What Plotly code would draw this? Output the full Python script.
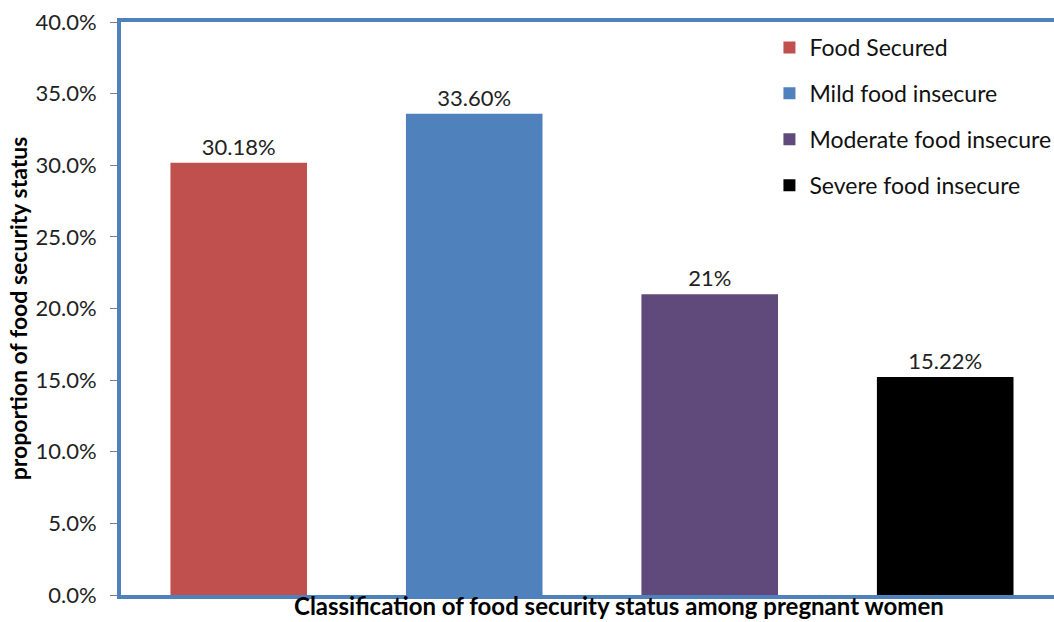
import plotly.graph_objects as go

categories = ["Food Secured", "Mild food insecure", "Moderate food insecure", "Severe food insecure"]
values = [30.18, 33.60, 21.0, 15.22]
labels = ["30.18%", "33.60%", "21%", "15.22%"]
colors = ["#C0504D", "#4F81BD", "#604A7B", "#000000"]
yticks = [0, 5, 10, 15, 20, 25, 30, 35, 40]
yticklabels = ["0.0%", "5.0%", "10.0%", "15.0%", "20.0%", "25.0%", "30.0%", "35.0%", "40.0%"]

FONT = "Lato, Open Sans, sans-serif"

fig = go.Figure()
for i, (c, v, t, col) in enumerate(zip(categories, values, labels, colors)):
    fig.add_trace(go.Bar(
        x=[i], y=[v], name=c, marker_color=col, marker_line_width=0,
        width=0.58, text=[t], textposition="outside", cliponaxis=False,
        textfont=dict(size=22, color="#222222", family=FONT),
        legendgroup=c,
    ))

fig.update_layout(
    width=1054, height=622,
    margin=dict(l=121, r=0, t=22, b=27, autoexpand=False),
    paper_bgcolor="white", plot_bgcolor="white",
    barmode="overlay",
    showlegend=True,
    legend=dict(x=0.695, y=0.993, xanchor="left", yanchor="top",
                font=dict(size=23, family=FONT, color="#111111"),
                tracegroupgap=13, itemwidth=30, bgcolor="rgba(0,0,0,0)"),
    font=dict(family=FONT),
)
fig.update_xaxes(range=[-0.5, 3.462], showticklabels=False, showgrid=False,
                 zeroline=False, showline=True, linecolor="#4F81BD", linewidth=4,
                 mirror=True, ticks="")
fig.update_yaxes(range=[0, 40], tickvals=yticks, ticktext=yticklabels,
                 showgrid=False, zeroline=False, showline=True,
                 linecolor="#4F81BD", linewidth=4, ticks="outside", ticklen=7,
                 ticklabelstandoff=9,
                 tickcolor="#7F7F7F", tickfont=dict(size=22, family=FONT, color="#222222"),
                 title=dict(text="<b>proportion of food security status</b>",
                            font=dict(size=23, family=FONT, color="#000000"), standoff=2))
fig.add_annotation(text="<b>Classification of food security status among pregnant women</b>",
                   xref="paper", yref="paper", x=(619 - 121) / 933, y=-27 / 573,
                   xanchor="center", yanchor="bottom", showarrow=False,
                   font=dict(size=24, family=FONT, color="#000000"))
fig.write_html("out.html")
